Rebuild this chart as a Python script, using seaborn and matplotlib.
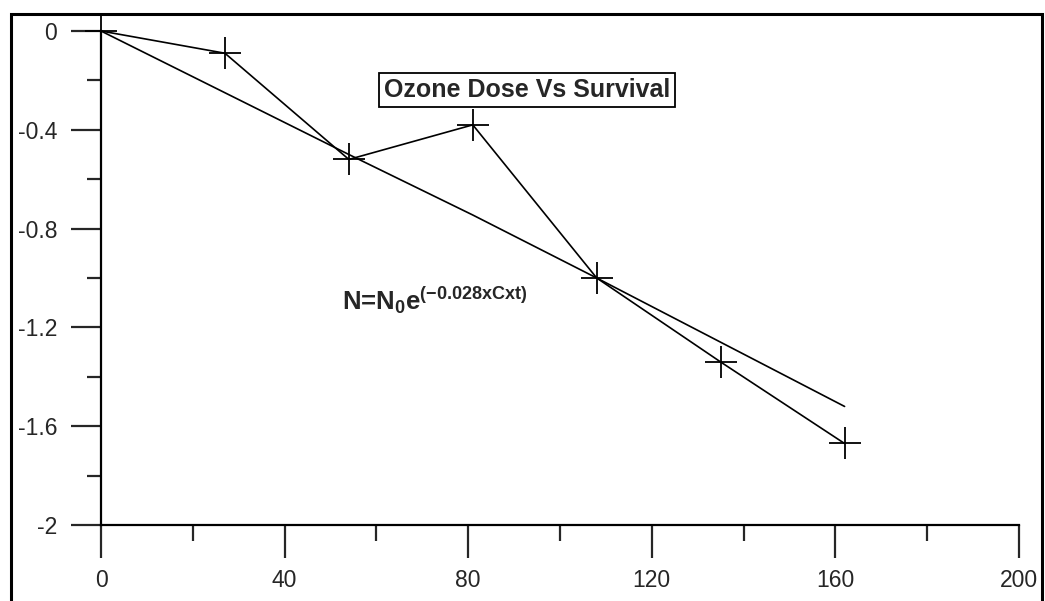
import numpy as np
import pandas as pd
import seaborn as sns
import matplotlib.pyplot as plt
from matplotlib.patches import Rectangle
from matplotlib.ticker import MultipleLocator

# data
ct = [0, 27, 54, 81, 108, 135, 162]
log_survival = [0, -0.09, -0.52, -0.38, -1.0, -1.34, -1.67]
fit_ct = [0, 27, 54, 81, 108, 135, 162]
fit_log_survival = [0, -0.25, -0.50, -0.745, -1.0, -1.26, -1.52]

sns.set_style("white")
plt.rcParams["font.family"] = ["Liberation Sans", "DejaVu Sans"]
plt.rcParams["mathtext.fontset"] = "custom"
plt.rcParams["mathtext.rm"] = "Liberation Sans:bold"
plt.rcParams["mathtext.it"] = "Liberation Sans:bold"
plt.rcParams["mathtext.bf"] = "Liberation Sans:bold"

fig = plt.figure(figsize=(10.45, 6.01), dpi=100)
ax = fig.add_axes([101 / 1045, 1 - 525 / 601, 918 / 1045, 494 / 601])

obs = pd.DataFrame({"ct": ct, "logN": log_survival})
fit = pd.DataFrame({"ct": fit_ct, "logN": fit_log_survival})

sns.lineplot(data=fit, x="ct", y="logN", sort=False, color="black",
             linewidth=1.2, ax=ax, clip_on=False)
sns.lineplot(data=obs, x="ct", y="logN", sort=False, color="black",
             linewidth=1.2, marker="+", markersize=23, markeredgewidth=1.3,
             markeredgecolor="black", ax=ax, clip_on=False)

ax.set_xlim(0, 200)
ax.set_ylim(-2, 0)
ax.xaxis.set_major_locator(MultipleLocator(40))
ax.xaxis.set_minor_locator(MultipleLocator(20))
ax.yaxis.set_major_locator(MultipleLocator(0.4))
ax.yaxis.set_minor_locator(MultipleLocator(0.2))
ax.yaxis.set_major_formatter(plt.FuncFormatter(lambda v, p: f"{round(v, 2) + 0:g}"))
ax.xaxis.set_major_formatter(plt.FuncFormatter(lambda v, p: f"{round(v) + 0:g}"))

for side in ["top", "right"]:
    ax.spines[side].set_visible(False)
for side in ["left", "bottom"]:
    ax.spines[side].set_linewidth(1.6)
    ax.spines[side].set_color("black")

ax.tick_params(axis="x", which="major", direction="out", length=24, width=1.6,
               pad=8, labelsize=16.5, bottom=True)
ax.tick_params(axis="x", which="minor", direction="out", length=11.5, width=1.6,
               bottom=True)
ax.tick_params(axis="y", which="major", direction="out", length=21.5, width=1.6,
               pad=10, labelsize=16.5, left=True)
ax.tick_params(axis="y", which="minor", direction="out", length=10, width=1.6,
               left=True)
ax.set_xlabel("")
ax.set_ylabel("")

ax.text(0.464, 0.88, "Ozone Dose Vs Survival", transform=ax.transAxes,
        ha="center", va="center", fontsize=18, fontweight="bold",
        bbox=dict(boxstyle="square,pad=0.2", facecolor="white",
                  edgecolor="black", linewidth=1.3))
ax.text(0.263, 0.455, r"N=N$_0$e$^{(-0.028xCxt)}$", fontweight="bold",
        transform=ax.transAxes, ha="left", va="center", fontsize=18.5)

# outer frame around the whole chart
fig.patches.append(Rectangle((11 / 1045, -0.1), 1031 / 1045, 1.1 - 14 / 601,
                             transform=fig.transFigure, fill=False,
                             edgecolor="black", linewidth=2.2))

fig.savefig("out.png", dpi=100)
